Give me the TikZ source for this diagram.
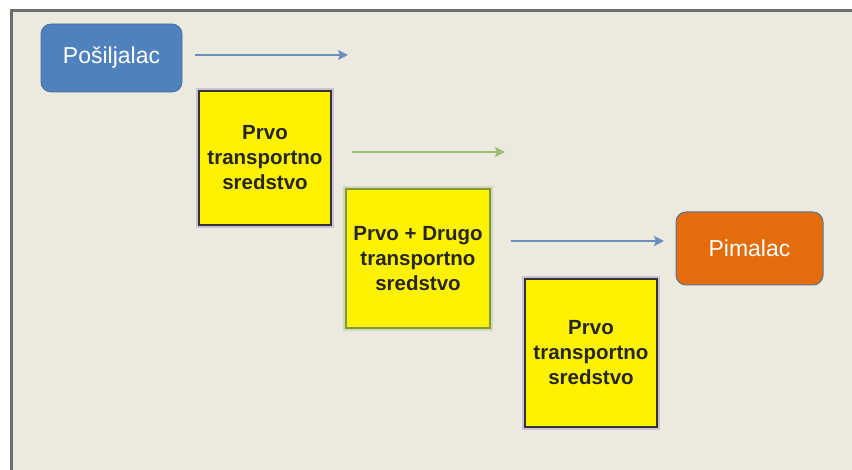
\documentclass[tikz,border=0pt]{standalone}
\usepackage{fontspec}
\setmainfont{Liberation Sans}
\usetikzlibrary{arrows.meta}
\definecolor{bgc}{RGB}{236,234,223}
\definecolor{framec}{RGB}{110,110,110}
\definecolor{bluec}{RGB}{79,129,189}
\definecolor{bluedk}{RGB}{70,110,160}
\definecolor{orangec}{RGB}{228,108,10}
\definecolor{arrblue}{RGB}{108,142,190}
\definecolor{arrgreen}{RGB}{160,188,110}
\definecolor{glowp}{RGB}{175,150,210}
\definecolor{olivec}{RGB}{130,150,60}
\definecolor{glowg}{RGB}{190,205,140}
\tikzset{
  label box/.style={rounded corners=10pt, text=white, font=\fontsize{23}{27}\selectfont, align=center, inner sep=0pt},
  yellowbox/.style={fill=yellow, draw=black!80, line width=1.6pt, align=center, inner sep=0pt,
    font=\bfseries\fontsize{20.5}{25}\selectfont, text=black!85},
  flow/.style={line width=2.6pt, -{Stealth[length=10pt,width=10pt,inset=2pt]}}
}
\begin{document}
\begin{tikzpicture}[x=1pt,y=-1pt]
\useasboundingbox (0,0) rectangle (852,470);
\fill[white] (0,0) rectangle (852,470);
\fill[bgc] (11,11) rectangle (852,470);
\draw[framec, line width=3pt] (11.5,470) -- (11.5,10.5) -- (852,10.5);
% glows
\draw[glowp, line width=6pt, opacity=0.5] (199,91) rectangle (331,225);
\draw[glowg, line width=6pt, opacity=0.55] (346,189) rectangle (490,328);
\draw[glowp, line width=6pt, opacity=0.5] (525,279) rectangle (657,427);
% nodes
\node[label box, fill=bluec, draw=bluedk, line width=0.8pt, minimum width=141pt, minimum height=68pt] (pos) at (111.5,58) {Pošiljalac};
\node[label box, fill=orangec, draw=bluedk!70!gray, line width=1pt, minimum width=147pt, minimum height=73pt] (pri) at (749.5,248.5) {Pimalac};
\node[yellowbox, minimum width=132pt, minimum height=134pt] (b1) at (265,158) {Prvo\\transportno\\sredstvo};
\node[yellowbox, draw=olivec, minimum width=144pt, minimum height=139pt] (b2) at (418,258.5) {Prvo + Drugo\\transportno\\sredstvo};
\node[yellowbox, minimum width=132pt, minimum height=148pt] (b3) at (591,353) {Prvo\\transportno\\sredstvo};
% arrow anchors
\coordinate (a1s) at (195,55);
\coordinate (a1e) at (348,55);
\coordinate (a2s) at (352,152);
\coordinate (a2e) at (505,152);
\coordinate (a3s) at (511,241);
\coordinate (a3e) at (664,241);
\draw[flow, arrblue] (a1s) -- (a1e);
\draw[flow, arrgreen] (a2s) -- (a2e);
\draw[flow, arrblue] (a3s) -- (a3e);
\end{tikzpicture}
\end{document}
